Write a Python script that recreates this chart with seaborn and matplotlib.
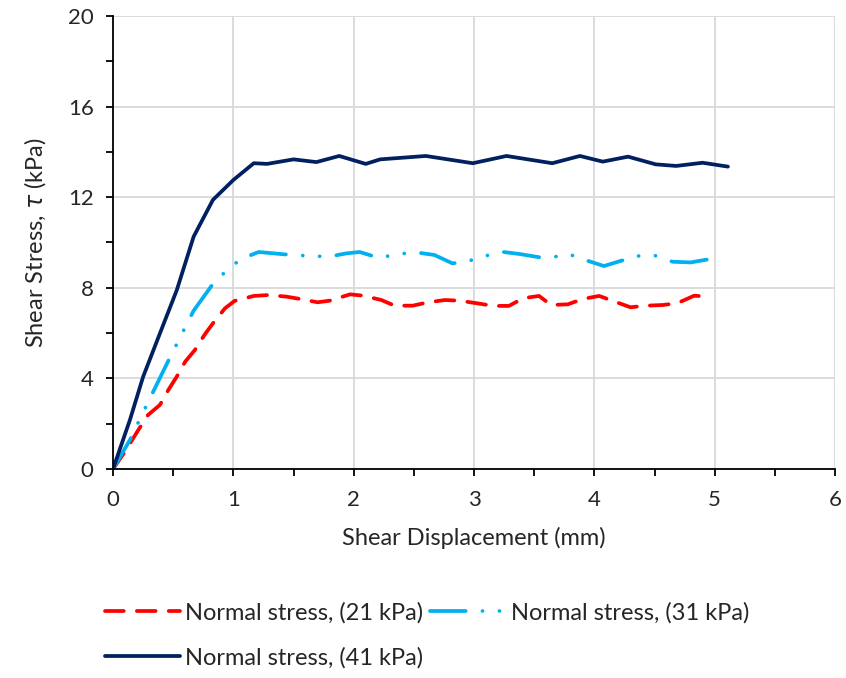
import matplotlib
matplotlib.use('Agg')
import matplotlib.pyplot as plt
import seaborn as sns
from matplotlib.ticker import MultipleLocator

# ── Data ──────────────────────────────────────────────
x_21 = [0, 0.09, 0.21, 0.29, 0.39, 0.46, 0.53, 0.6, 0.68, 0.76, 0.83, 0.93, 1.01,
        1.17, 1.29, 1.44, 1.55, 1.7, 1.8, 1.97, 2.08, 2.23, 2.34, 2.49, 2.62, 2.76,
        2.88, 3.02, 3.16, 3.29, 3.41, 3.54, 3.64, 3.78, 3.9, 4.04, 4.17, 4.3, 4.43,
        4.57, 4.69, 4.83, 4.95]
y_21 = [0, 0.69, 1.72, 2.38, 2.83, 3.49, 4.08, 4.74, 5.25, 5.92, 6.43, 7.09, 7.42,
        7.64, 7.68, 7.61, 7.51, 7.36, 7.43, 7.71, 7.65, 7.46, 7.21, 7.21, 7.36, 7.46,
        7.43, 7.32, 7.2, 7.2, 7.54, 7.64, 7.24, 7.27, 7.5, 7.64, 7.39, 7.14, 7.21,
        7.24, 7.32, 7.65, 7.61]

x_31 = [0, 0.14, 0.27, 0.46, 0.6, 0.67, 0.83, 0.94, 1.06, 1.21, 1.48, 1.79, 1.94,
        2.05, 2.21, 2.36, 2.51, 2.67, 2.82, 2.93, 3.07, 3.23, 3.38, 3.54, 3.65, 3.79,
        3.94, 4.08, 4.35, 4.5, 4.65, 4.8, 5.07]
y_31 = [0, 1.28, 2.72, 4.78, 6.26, 6.99, 8.17, 8.74, 9.26, 9.58, 9.45, 9.37, 9.52,
        9.58, 9.32, 9.48, 9.57, 9.45, 9.08, 9.14, 9.37, 9.59, 9.49, 9.35, 9.35, 9.48,
        9.2, 8.96, 9.4, 9.43, 9.15, 9.12, 9.37]

x_41 = [0, 0.14, 0.25, 0.39, 0.53, 0.67, 0.83, 1.0, 1.17, 1.28, 1.5, 1.69, 1.88,
        2.1, 2.22, 2.6, 2.99, 3.27, 3.65, 3.88, 4.07, 4.28, 4.51, 4.68, 4.9, 5.11]
y_41 = [0, 2.16, 4.07, 5.99, 7.9, 10.26, 11.88, 12.76, 13.5, 13.47, 13.67, 13.55, 13.82,
        13.47, 13.67, 13.82, 13.5, 13.82, 13.5, 13.82, 13.57, 13.79, 13.45, 13.38, 13.52,
        13.35]

labels = ['Normal stress, (21 kPa)', 'Normal stress, (31 kPa)', 'Normal stress, (41 kPa)']
colors = ['#ff0000', '#00b0f0', '#002060']
styles = [(0, (5, 3.5)), (0, (9.5, 4.5, 0.01, 4.5, 0.01, 4.5)), '-']

# ── Plot ──────────────────────────────────────────────
sns.set_style('white')
plt.rcParams['font.family'] = ['Lato', 'DejaVu Sans']
plt.rcParams['mathtext.fontset'] = 'dejavusans'

fig = plt.figure(figsize=(8.46, 6.78), dpi=100)
ax = fig.add_axes([0.1336, 0.3083, 0.8534, 0.6681])

for xs, ys, c, ls, lab in zip([x_21, x_31, x_41], [y_21, y_31, y_41], colors, styles, labels):
    sns.lineplot(x=xs, y=ys, ax=ax, color=c, linewidth=2.7, estimator=None,
                 sort=False, label=lab, legend=False)
    line = ax.lines[-1]
    line.set_linestyle(ls)
    line.set_dash_capstyle('round')
    line.set_solid_capstyle('round')
    line.set_solid_joinstyle('round')

ax.set_xlim(0, 6)
ax.set_ylim(0, 20)
ax.xaxis.set_major_locator(MultipleLocator(1))
ax.xaxis.set_minor_locator(MultipleLocator(0.5))
ax.yaxis.set_major_locator(MultipleLocator(4))
ax.yaxis.set_minor_locator(MultipleLocator(2))
ax.grid(True, which='major', color='#d9d9d9', linewidth=1.3)
ax.set_axisbelow(True)

for s in ['top', 'right']:
    ax.spines[s].set_visible(False)
for s in ['left', 'bottom']:
    ax.spines[s].set_color('black')
    ax.spines[s].set_linewidth(1.3)

ax.tick_params(which='both', direction='out', length=5, width=1.3, color='black',
               labelsize=16, bottom=True, left=True)
ax.tick_params(axis='x', pad=10)
ax.tick_params(axis='y', pad=9)
ax.set_xlabel('Shear Displacement (mm)', fontsize=17, labelpad=12)
ax.set_ylabel(r'Shear Stress, $\tau$ (kPa)', fontsize=17, labelpad=14)

h = ax.lines[:3]
# column-major fill: [21, 41] in column one, [31] in column two
fig.legend([h[0], h[2], h[1]], [labels[0], labels[2], labels[1]], ncol=2,
           loc='upper left', bbox_to_anchor=(0.11, 0.13), borderpad=0,
           frameon=False, fontsize=17, handlelength=3.2, handletextpad=0.2,
           columnspacing=0.3, labelspacing=1.0)

plt.savefig('out.png', dpi=100)
